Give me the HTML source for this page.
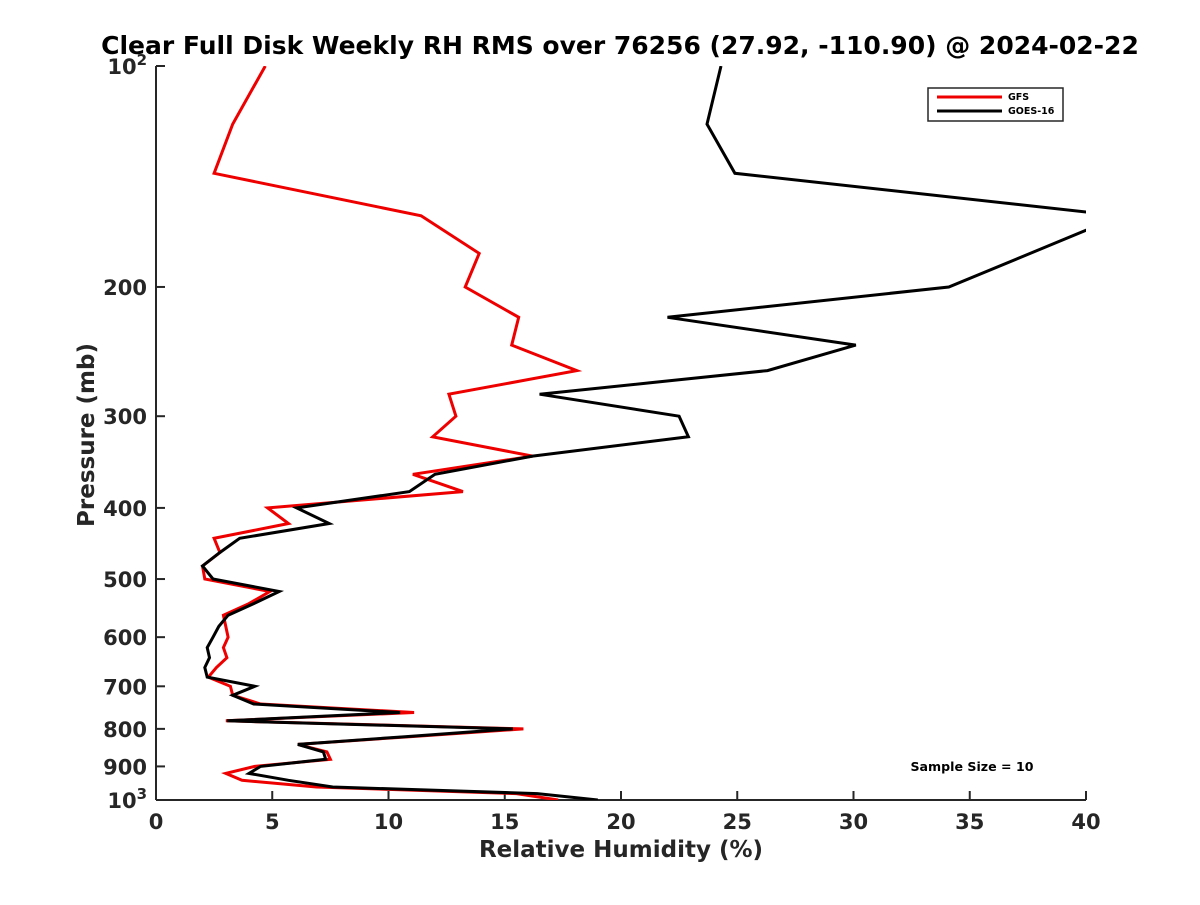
<!DOCTYPE html>
<html><head><meta charset="utf-8"><style>
body{margin:0;background:#fff;width:1200px;height:900px;overflow:hidden}
svg text{font-family:"DejaVu Sans","Liberation Sans",sans-serif;font-weight:bold;fill:#262626}
</style></head><body>
<svg id="chart" width="1200" height="900" xmlns="http://www.w3.org/2000/svg">
<text x="620" y="54" text-anchor="middle" font-size="25" style="fill:#000">Clear Full Disk Weekly RH RMS over 76256 (27.92, -110.90) @ 2024-02-22</text>
<g id="axes"></g>
<g id="series"></g>
<text x="621" y="857" text-anchor="middle" font-size="23">Relative Humidity (%)</text>
<text transform="translate(94,435) rotate(-90)" text-anchor="middle" font-size="23">Pressure (mb)</text>
<text x="972" y="771" text-anchor="middle" font-size="12.6" style="fill:#000">Sample Size = 10</text>
<g>
<rect x="928" y="88" width="135" height="33" fill="#fff" stroke="#262626" stroke-width="1.5"/>
<line x1="937" y1="97" x2="1002" y2="97" stroke="#e00" stroke-width="3"/>
<text x="1008" y="100" font-size="9.5" style="fill:#000">GFS</text>
<line x1="937" y1="111" x2="1002" y2="111" stroke="#000" stroke-width="3"/>
<text x="1008" y="114" font-size="9.5" style="fill:#000">GOES-16</text>
</g>
</svg>
<script>
const pressures=[100,120,140,160,180,200,220,240,260,280,300,320,340,360,380,400,420,440,460,480,500,520,540,560,580,600,620,640,660,680,700,720,740,760,780,800,820,840,860,880,900,920,940,960,980,1000];
const gfsRH=[4.7,3.3,2.5,11.4,13.9,13.3,15.6,15.3,18.1,12.6,12.9,11.9,16.2,11.05,13.2,4.8,5.7,2.5,2.75,2.0,2.1,4.9,4.0,2.9,3.0,3.1,2.9,3.05,2.6,2.25,3.2,3.3,4.5,11.1,3.0,15.8,10.9,6.1,7.35,7.5,4.25,3.0,3.7,6.9,15.5,17.3];
const goesRH=[24.3,23.7,24.9,41.5,37.6,34.1,22.0,30.1,26.3,16.5,22.5,22.9,16.2,12.0,10.9,6.05,7.45,3.6,2.75,2.0,2.45,5.3,4.2,3.1,2.7,2.45,2.2,2.3,2.1,2.2,4.25,3.3,4.2,10.5,3.05,15.35,10.7,6.1,7.2,7.3,4.5,4.0,5.7,7.6,16.4,19.0];
const xTicks=[0,5,10,15,20,25,30,35,40];
const yTicks=[200,300,400,500,600,700,800,900];
const NS="http://www.w3.org/2000/svg";
const X0=156,X1=1086,Y0=66,Y1=800;
const xs=v=>X0+(v/40)*(X1-X0);
const ys=p=>Y0+(Math.log10(p)-2)*(Y1-Y0);
function mk(tag,attrs,parent){const e=document.createElementNS(NS,tag);for(const k in attrs)e.setAttribute(k,attrs[k]);parent.appendChild(e);return e;}
const axes=document.getElementById('axes');
const ser=document.getElementById('series');
const defs=mk('defs',{},document.getElementById('chart'));
const cp=mk('clipPath',{id:'plotclip'},defs);
mk('rect',{x:X0,y:Y0,width:X1-X0,height:Y1-Y0},cp);
let l=mk('line',{x1:X0,y1:Y0,x2:X0,y2:Y1,stroke:'#262626','stroke-width':2},axes);


l=mk('line',{x1:X0,y1:Y1,x2:X1,y2:Y1,stroke:'#262626','stroke-width':2},axes);


xTicks.forEach(v=>{
  const x=xs(v);
  const t=mk('line',{x1:x,y1:Y1,x2:x,y2:Y1-9,stroke:'#262626','stroke-width':2},axes);
  
  
  const tx=mk('text',{x:x,y:Y1+29,'text-anchor':'middle','font-size':21},axes);
  tx.textContent=v;
  
  
});
[100].concat(yTicks).concat([1000]).forEach(p=>{
  const y=ys(p);
  const t=mk('line',{x1:X0,y1:y,x2:X0+9,y2:y,stroke:'#262626','stroke-width':2},axes);
  
  
});
yTicks.forEach(p=>{
  const tx=mk('text',{x:X0-9,y:ys(p)+8,'text-anchor':'end','font-size':21},axes);
  tx.textContent=p;
  
  
});
[[100,'2'],[1000,'3']].forEach(([p,e])=>{
  const tx=mk('text',{x:X0-9,y:ys(p)+8,'text-anchor':'end','font-size':21},axes);
  
  
  const a=mk('tspan',{},tx);a.textContent='10';
  const b=mk('tspan',{dy:-9,'font-size':15},tx);b.textContent=e;
});
function drawLine(vals,color,name){
  const pts=vals.map((v,i)=>xs(v).toFixed(1)+','+ys(pressures[i]).toFixed(1)).join(' ');
  const pl=mk('polyline',{points:pts,fill:'none',stroke:color,'stroke-width':3,'stroke-linejoin':'miter','clip-path':'url(#plotclip)'},ser);
  
  
}
drawLine(gfsRH,'#e00','gfs-line');
drawLine(goesRH,'#000','goes16-line');
</script>
</body></html>
